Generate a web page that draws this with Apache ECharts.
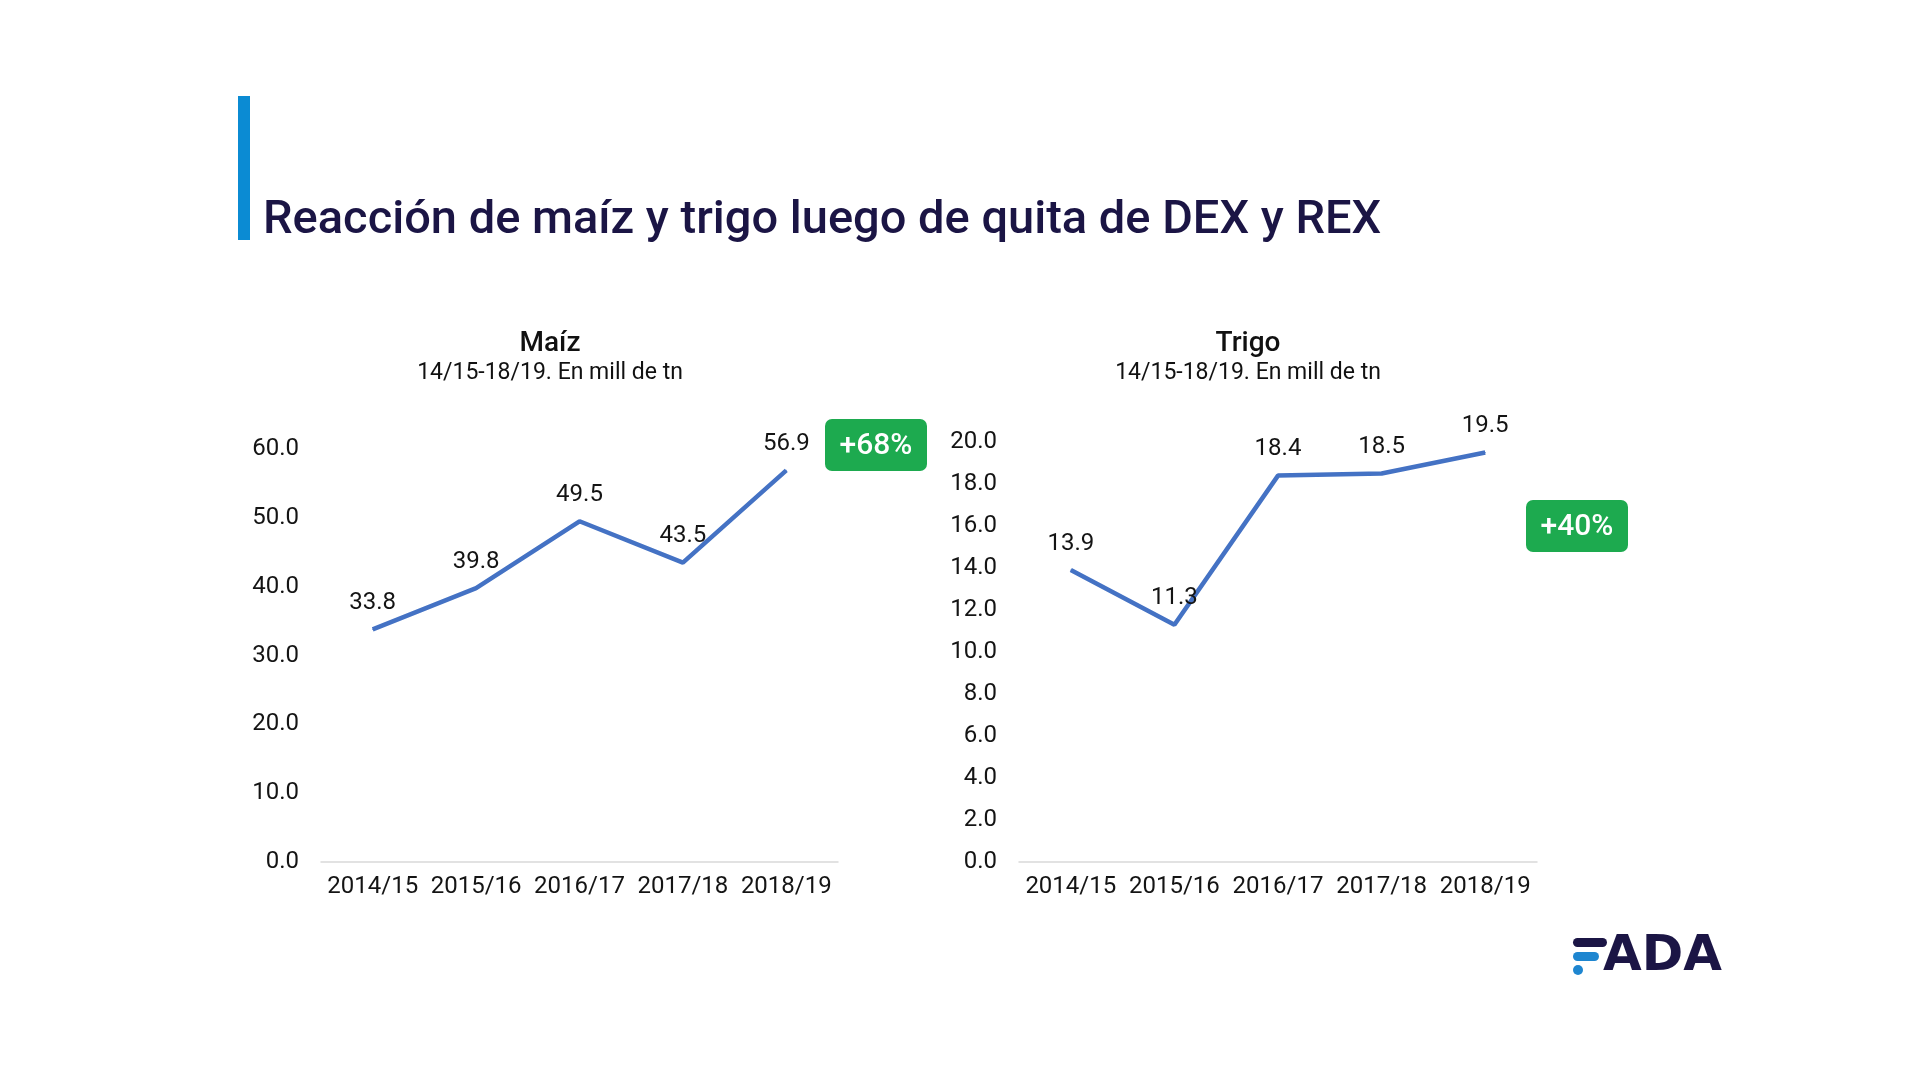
<!DOCTYPE html>
<html>
<head>
<meta charset="utf-8">
<script src="https://cdn.jsdelivr.net/npm/echarts@6/dist/echarts.min.js"></script>
<style>
  html, body { margin: 0; padding: 0; background: #fff; }
  #chart { width: 1920px; height: 1088px; }
</style>
</head>
<body>
<div id="chart"></div>
<script>
const campaigns = ["2014/15", "2015/16", "2016/17", "2017/18", "2018/19"];
const maizValues = [33.8, 39.8, 49.5, 43.5, 56.9];
const trigoValues = [13.9, 11.3, 18.4, 18.5, 19.5];

const chart = echarts.init(document.getElementById("chart"));

const FONT = "Roboto";
const TEXT = "#141414";
const LINE = "#4472C4";
const GREEN = "#1DAA4F";

// variation between first and last campaign
const pct = (arr) => "+" + Math.round((arr[arr.length - 1] / arr[0] - 1) * 100) + "%";

const xAxisBase = (gridIndex) => ({
  type: "category",
  gridIndex: gridIndex,
  data: campaigns,
  axisTick: { show: false },
  axisLine: { lineStyle: { color: "#d9d9d9", width: 1.5 } },
  axisLabel: { color: TEXT, fontFamily: FONT, fontSize: 24, margin: 13, interval: 0 }
});

const yAxisBase = (gridIndex, max, interval) => ({
  type: "value",
  gridIndex: gridIndex,
  min: 0,
  max: max,
  interval: interval,
  splitLine: { show: false },
  axisLine: { show: false },
  axisTick: { show: false },
  axisLabel: {
    color: TEXT,
    fontFamily: FONT,
    fontSize: 24,
    margin: 22,
    padding: [8, 0, 0, 0],
    formatter: (v) => v.toFixed(1)
  }
});

const lineSeries = (name, data, idx) => ({
  name: name,
  type: "line",
  xAxisIndex: idx,
  yAxisIndex: idx,
  data: data,
  symbol: "circle",
  symbolSize: 1,
  showSymbol: true,
  itemStyle: { color: LINE },
  lineStyle: { color: LINE, width: 4.5 },
  label: {
    show: true,
    position: "top",
    distance: 14,
    color: TEXT,
    fontFamily: FONT,
    fontSize: 24,
    formatter: (p) => Number(p.value).toFixed(1)
  }
});

const badge = (x, y, text) => ({
  type: "group",
  x: x,
  y: y,
  children: [
    { type: "rect", shape: { x: 0, y: 0, width: 102, height: 52, r: 7 }, style: { fill: GREEN } },
    {
      type: "text",
      x: 51,
      y: 27,
      style: {
        text: text,
        fill: "#fff",
        font: "500 30px Roboto",
        textAlign: "center",
        textVerticalAlign: "middle"
      }
    }
  ]
});

const option = {
  backgroundColor: "#ffffff",
  animation: false,
  grid: [
    { left: 321, top: 449, width: 517, height: 413 },
    { left: 1019, top: 442, width: 518, height: 420 }
  ],
  xAxis: [xAxisBase(0), xAxisBase(1)],
  yAxis: [yAxisBase(0, 60, 10), yAxisBase(1, 20, 2)],
  series: [lineSeries("Maíz", maizValues, 0), lineSeries("Trigo", trigoValues, 1)],
  graphic: [
    { type: "rect", shape: { x: 238, y: 96, width: 12, height: 144 }, style: { fill: "#0B8BD3" } },
    {
      type: "text",
      x: 263,
      y: 221,
      style: {
        text: "Reacción de maíz y trigo luego de quita de DEX y REX",
        fill: "#1B1545",
        font: "500 47px Roboto",
        textVerticalAlign: "middle"
      }
    },
    {
      type: "text", x: 550, y: 344,
      style: { text: "Maíz", fill: "#111", font: "500 28px Roboto", textAlign: "center", textVerticalAlign: "middle" }
    },
    {
      type: "text", x: 550, y: 373,
      style: { text: "14/15-18/19. En mill de tn", fill: "#111", font: "23px Roboto", textAlign: "center", textVerticalAlign: "middle" }
    },
    {
      type: "text", x: 1248, y: 344,
      style: { text: "Trigo", fill: "#111", font: "500 28px Roboto", textAlign: "center", textVerticalAlign: "middle" }
    },
    {
      type: "text", x: 1248, y: 373,
      style: { text: "14/15-18/19. En mill de tn", fill: "#111", font: "23px Roboto", textAlign: "center", textVerticalAlign: "middle" }
    },
    badge(825, 419, pct(maizValues)),
    badge(1526, 500, pct(trigoValues)),
    // FADA logo
    {
      type: "group",
      x: 1573,
      y: 936,
      children: [
        { type: "rect", shape: { x: 0, y: 2, width: 34, height: 9, r: 4.5 }, style: { fill: "#1B1545" } },
        { type: "rect", shape: { x: 0, y: 16, width: 26, height: 9, r: 4.5 }, style: { fill: "#1E86D0" } },
        { type: "circle", shape: { cx: 5, cy: 34, r: 5 }, style: { fill: "#1E86D0" } },
        {
          type: "text",
          x: 30,
          y: 21,
          style: { text: "ADA", fill: "#1B1545", font: "bold 50px 'DejaVu Sans'", textVerticalAlign: "middle" }
        }
      ]
    }
  ]
};

chart.setOption(option);
</script>
</body>
</html>
